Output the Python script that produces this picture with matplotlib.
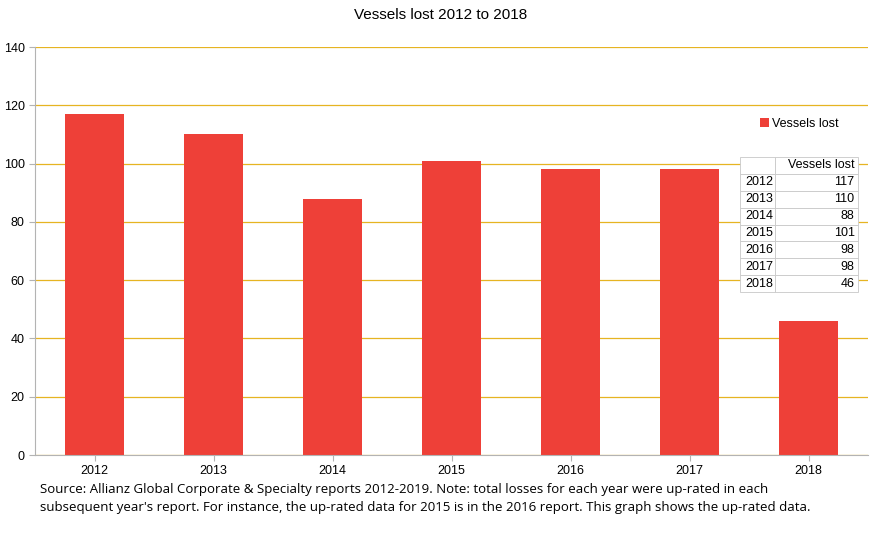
import matplotlib.pyplot as plt
import numpy as np

years = ['2012', '2013', '2014', '2015', '2016', '2017', '2018']
vessels_lost = [117, 110, 88, 101, 98, 98, 46]

plt.rcParams['font.family'] = ['Liberation Sans', 'DejaVu Sans']
fig = plt.figure(figsize=(8.82, 5.5), dpi=100)
ax = fig.add_axes([35/882, 1-455/550, 833/882, 408/550])

x = np.arange(len(years))
ax.bar(x, vessels_lost, width=0.5, color='#EE4038', zorder=2, label='Vessels lost')
ax.set_xlim(-0.5, len(years)-0.5)
ax.set_ylim(0, 140)
ax.set_yticks(range(0, 141, 20))
ax.set_xticks(x)
ax.set_xticklabels(years)
ax.tick_params(labelsize=9, length=4, color='#b3b3b3')
ax.grid(axis='y', color='#E6B422', lw=0.9, zorder=0)
for s in ax.spines.values():
    s.set_visible(False)
ax.spines['left'].set_visible(True)
ax.spines['bottom'].set_visible(True)
ax.spines['left'].set_color('#b3b3b3')
ax.spines['bottom'].set_color('#b3b3b3')

fig.text(0.5, 1-15/550, 'Vessels lost 2012 to 2018', ha='center', va='center', fontsize=11)

ax.legend(loc='upper left', bbox_to_anchor=((760-35)/833, (455-118)/408),
          frameon=False, fontsize=9, handlelength=0.7, handleheight=0.7,
          handletextpad=0.3, borderpad=0, borderaxespad=0)

# data table on the right
cell_text = [['', 'Vessels lost']] + [[y, str(v)] for y, v in zip(years, vessels_lost)]
tab = fig.add_axes([740/882, 1-292/550, 118/882, 135/550])
tab.axis('off')
t = tab.table(cellText=cell_text, colWidths=[35/118, 83/118], bbox=[0, 0, 1, 1])
t.auto_set_font_size(False)
for (r, c), cell in t.get_celld().items():
    cell.set_fontsize(9)
    cell.set_edgecolor('#c8c8c8')
    cell.set_linewidth(0.6)
    cell.set_facecolor('white')
    if c == 0:
        cell._loc = 'left'
    else:
        cell._loc = 'right'
    if r == 0:
        cell._loc = 'center'
    cell.PAD = 0.04

fig.text(40/882, 1-498/550,
         "Source: Allianz Global Corporate & Specialty reports 2012-2019. Note: total losses for each year were up-rated in each\n"
         "subsequent year's report. For instance, the up-rated data for 2015 is in the 2016 report. This graph shows the up-rated data.",
         ha='left', va='center', fontsize=9.5, family=['Open Sans', 'DejaVu Sans'], linespacing=1.5)

fig.savefig('out.png', dpi=100)
